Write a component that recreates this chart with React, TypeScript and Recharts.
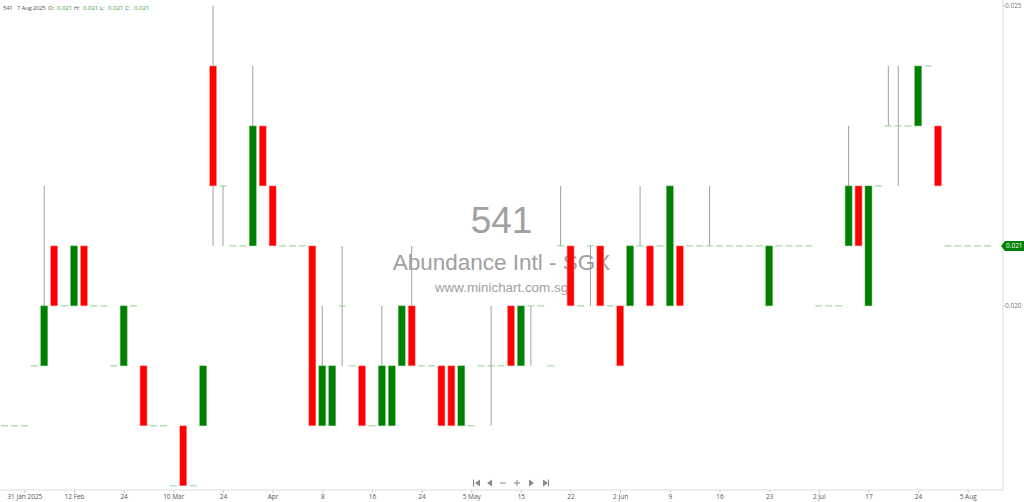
import React from "react";
import { ComposedChart, Bar, XAxis, YAxis } from "recharts";

// daily OHLC, one slot per trading day (31 Jan 2025 .. 7 Aug 2025)
const OPEN = [
  0.018, 0.018, 0.018, 0.019, 0.019, 0.021, 0.02, 0.02, 0.021, 0.02,
  0.02, 0.019, 0.019, 0.02, 0.019, 0.018, 0.018, 0.017, 0.018, 0.017,
  0.018, 0.024, 0.022, 0.021, 0.021, 0.021, 0.023, 0.022, 0.021, 0.021,
  0.021, 0.021, 0.018, 0.018, 0.02, 0.019, 0.019, 0.018, 0.018, 0.018,
  0.019, 0.02, 0.019, 0.019, 0.019, 0.019, 0.018, 0.018, 0.019, 0.019,
  0.019, 0.02, 0.019, 0.02, 0.02, 0.019, 0.021, 0.021, 0.02, 0.021,
  0.021, 0.02, 0.02, 0.02, 0.021, 0.021, 0.021, 0.02, 0.021, 0.021,
  0.021, 0.021, 0.021, 0.021, 0.021, 0.021, 0.021, 0.02, 0.021, 0.021,
  0.021, 0.021, 0.02, 0.02, 0.02, 0.021, 0.022, 0.02, 0.022, 0.023,
  0.023, 0.023, 0.023, 0.024, 0.023, 0.021, 0.021, 0.021, 0.021, 0.021,
];
const HIGH = [
  0.018, 0.018, 0.018, 0.019, 0.022, 0.021, 0.02, 0.021, 0.021, 0.02,
  0.02, 0.019, 0.02, 0.02, 0.019, 0.018, 0.018, 0.017, 0.018, 0.017,
  0.019, 0.025, 0.022, 0.021, 0.021, 0.024, 0.023, 0.022, 0.021, 0.021,
  0.021, 0.021, 0.02, 0.019, 0.021, 0.019, 0.019, 0.018, 0.02, 0.019,
  0.02, 0.021, 0.019, 0.019, 0.019, 0.019, 0.019, 0.018, 0.019, 0.02,
  0.019, 0.02, 0.02, 0.02, 0.02, 0.019, 0.022, 0.021, 0.02, 0.021,
  0.021, 0.02, 0.02, 0.021, 0.022, 0.021, 0.021, 0.022, 0.021, 0.021,
  0.021, 0.022, 0.021, 0.021, 0.021, 0.021, 0.021, 0.021, 0.021, 0.021,
  0.021, 0.021, 0.02, 0.02, 0.02, 0.023, 0.022, 0.022, 0.022, 0.024,
  0.024, 0.023, 0.024, 0.024, 0.023, 0.021, 0.021, 0.021, 0.021, 0.021,
];
const LOW = [
  0.018, 0.018, 0.018, 0.019, 0.019, 0.02, 0.02, 0.02, 0.02, 0.02,
  0.02, 0.019, 0.019, 0.02, 0.018, 0.018, 0.018, 0.017, 0.017, 0.017,
  0.018, 0.021, 0.021, 0.021, 0.021, 0.021, 0.022, 0.021, 0.021, 0.021,
  0.021, 0.018, 0.018, 0.018, 0.019, 0.019, 0.018, 0.018, 0.018, 0.018,
  0.019, 0.019, 0.019, 0.019, 0.018, 0.018, 0.018, 0.018, 0.019, 0.018,
  0.019, 0.019, 0.019, 0.019, 0.02, 0.019, 0.021, 0.02, 0.02, 0.02,
  0.02, 0.02, 0.019, 0.02, 0.021, 0.02, 0.021, 0.02, 0.02, 0.021,
  0.021, 0.021, 0.021, 0.021, 0.021, 0.021, 0.021, 0.02, 0.021, 0.021,
  0.021, 0.021, 0.02, 0.02, 0.02, 0.021, 0.021, 0.02, 0.022, 0.023,
  0.022, 0.023, 0.023, 0.024, 0.022, 0.021, 0.021, 0.021, 0.021, 0.021,
];
const CLOSE = [
  0.018, 0.018, 0.018, 0.019, 0.02, 0.02, 0.02, 0.021, 0.02, 0.02,
  0.02, 0.019, 0.02, 0.02, 0.018, 0.018, 0.018, 0.017, 0.017, 0.017,
  0.019, 0.022, 0.022, 0.021, 0.021, 0.023, 0.022, 0.021, 0.021, 0.021,
  0.021, 0.018, 0.019, 0.019, 0.02, 0.019, 0.018, 0.018, 0.019, 0.019,
  0.02, 0.019, 0.019, 0.019, 0.018, 0.018, 0.019, 0.018, 0.019, 0.019,
  0.019, 0.019, 0.02, 0.02, 0.02, 0.019, 0.021, 0.02, 0.02, 0.021,
  0.02, 0.02, 0.019, 0.021, 0.021, 0.02, 0.021, 0.022, 0.02, 0.021,
  0.021, 0.021, 0.021, 0.021, 0.021, 0.021, 0.021, 0.021, 0.021, 0.021,
  0.021, 0.021, 0.02, 0.02, 0.02, 0.022, 0.021, 0.022, 0.022, 0.023,
  0.023, 0.023, 0.024, 0.024, 0.022, 0.021, 0.021, 0.021, 0.021, 0.021,
];

const TICK_POS = [2, 7, 12, 17, 22, 27, 32, 37, 42, 47, 52, 57, 62, 67, 72, 77, 82, 87, 92, 97];
const TICK_LABELS = [
  "31 Jan 2025", "12 Feb", "24", "10 Mar", "24", "Apr", "8", "16", "24", "5 May",
  "15", "22", "2 Jun", "9", "16", "23", "2 Jul", "17", "24", "5 Aug",
];
const PRICE_TICKS = [0.02, 0.021, 0.025];
const LAST_PRICE = 0.021;

const data = OPEN.map((o, i) => ({
  i,
  o,
  h: HIGH[i],
  l: LOW[i],
  c: CLOSE[i],
  range: [LOW[i], HIGH[i]],
}));

const UP = "#008000";
const DOWN = "#ff0000";
const FLAT = "#8fd08f";
const WICK = "#a0a0a0";
const FONT = "'Open Sans', 'Liberation Sans', sans-serif";

function Candle(props: any) {
  const { x, y, width, height, payload } = props;
  const { o, h, l, c } = payload;
  const top = Math.min(y, y + height);
  const span = Math.abs(height);
  const cx = x + width / 2;
  if (h === l || span === 0) {
    return <line x1={x} x2={x + width} y1={top} y2={top} stroke={FLAT} strokeWidth={1} />;
  }
  const k = span / (h - l);
  const yO = top + (h - o) * k;
  const yC = top + (h - c) * k;
  return (
    <g>
      <line x1={cx} x2={cx} y1={top} y2={top + span} stroke={WICK} strokeWidth={1} />
      {o === c ? (
        <line x1={x} x2={x + width} y1={yO} y2={yO} stroke={FLAT} strokeWidth={1} />
      ) : (
        <rect
          x={x}
          y={Math.min(yO, yC)}
          width={width}
          height={Math.abs(yO - yC)}
          fill={c > o ? UP : DOWN}
          stroke={c > o ? "#6fbf6f" : "#ff9a9a"}
          strokeWidth={0.5}
        />
      )}
    </g>
  );
}

function PriceTick(props: any) {
  const { x, y, payload } = props;
  if (payload.value === LAST_PRICE) {
    return (
      <g>
        <path
          d={`M${x - 4},${y} L${x},${y - 5} L${x + 24},${y - 5} L${x + 24},${y + 5} L${x},${y + 5} Z`}
          fill={UP}
        />
        <text x={x + 1} y={y} dy="0.35em" fontSize={6.5} fill="#fff" fontFamily={FONT}>
          {payload.value.toFixed(3)}
        </text>
      </g>
    );
  }
  return (
    <text x={x} y={y} dy="0.35em" fontSize={6.5} fill="#777" fontFamily={FONT}>
      {payload.value.toFixed(3)}
    </text>
  );
}

function NavIcons() {
  const g = "#888";
  return (
    <svg width={80} height={10} style={{ position: "absolute", left: 471, top: 478 }}>
      <rect x={2} y={1.5} width={1} height={7} fill={g} />
      <path d="M9,1.5 L4,5 L9,8.5 Z" fill={g} />
      <path d="M21,1.5 L16,5 L21,8.5 Z" fill={g} />
      <rect x={29} y={4.5} width={6} height={1} fill={g} />
      <rect x={43} y={4.5} width={6} height={1} fill={g} />
      <rect x={45.5} y={2} width={1} height={6} fill={g} />
      <path d="M58,1.5 L63,5 L58,8.5 Z" fill={g} />
      <path d="M72,1.5 L77,5 L72,8.5 Z" fill={g} />
      <rect x={77} y={1.5} width={1} height={7} fill={g} />
    </svg>
  );
}

const HEADER = [
  { t: "541", left: 3, v: false },
  { t: "7 Aug 2025", left: 17, v: false },
  { t: "O:", left: 48, v: false },
  { t: "0.021", left: 57, v: true },
  { t: "H:", left: 74, v: false },
  { t: "0.021", left: 83, v: true },
  { t: "L:", left: 100, v: false },
  { t: "0.021", left: 108, v: true },
  { t: "C:", left: 125, v: false },
  { t: "0.021", left: 134, v: true },
];

export default function App() {
  return (
    <div
      style={{
        position: "absolute",
        left: 0,
        top: 0,
        width: 1024,
        height: 502,
        background: "#fff",
        overflow: "hidden",
      }}
    >
      <div
        style={{
          position: "absolute",
          left: 0,
          width: 1003,
          top: 202,
          textAlign: "center",
          fontFamily: "'Liberation Sans', Arial, sans-serif",
          color: "#a0a0a0",
          lineHeight: 1,
        }}
      >
        <div style={{ fontSize: 37 }}>541</div>
        <div style={{ fontSize: 22.5, marginTop: 13 }}>Abundance Intl - SGX</div>
        <div style={{ fontSize: 13.4, marginTop: 6 }}>www.minichart.com.sg</div>
      </div>
      {HEADER.map((p, k) => (
        <span
          key={k}
          style={{
            position: "absolute",
            left: p.left,
            top: 5,
            fontSize: 6,
            lineHeight: 1,
            letterSpacing: p.v ? 0 : -0.25,
            fontFamily: FONT,
            whiteSpace: "pre",
            color: p.v ? "#2e9e2e" : "#555",
          }}
        >
          {p.t}
        </span>
      ))}
      <div style={{ position: "absolute", left: 0, top: 0 }}>
        <ComposedChart
          width={1024}
          height={502}
          data={data}
          margin={{ top: 0, right: 0, left: 0, bottom: 0 }}
        >
          <XAxis
            dataKey="i"
            type="number"
            domain={[-0.5, 100.5]}
            ticks={TICK_POS}
            tickFormatter={(v: number) => TICK_LABELS[TICK_POS.indexOf(v)] ?? ""}
            height={12}
            tickSize={3}
            tickMargin={1}
            interval={0}
            tick={{ fontSize: 6.5, fill: "#555", fontFamily: FONT }}
            axisLine={{ stroke: "#ddd" }}
            tickLine={{ stroke: "#ccc" }}
          />
          <YAxis
            orientation="right"
            width={21}
            type="number"
            domain={[0.01693, 0.0251]}
            allowDataOverflow
            ticks={PRICE_TICKS}
            interval={0}
            tickSize={2}
            tickMargin={0}
            tick={<PriceTick />}
            axisLine={{ stroke: "#ddd" }}
            tickLine={{ stroke: "#ccc" }}
          />
          <Bar dataKey="range" barSize={7} shape={<Candle />} isAnimationActive={false} />
        </ComposedChart>
      </div>
      <NavIcons />
    </div>
  );
}
